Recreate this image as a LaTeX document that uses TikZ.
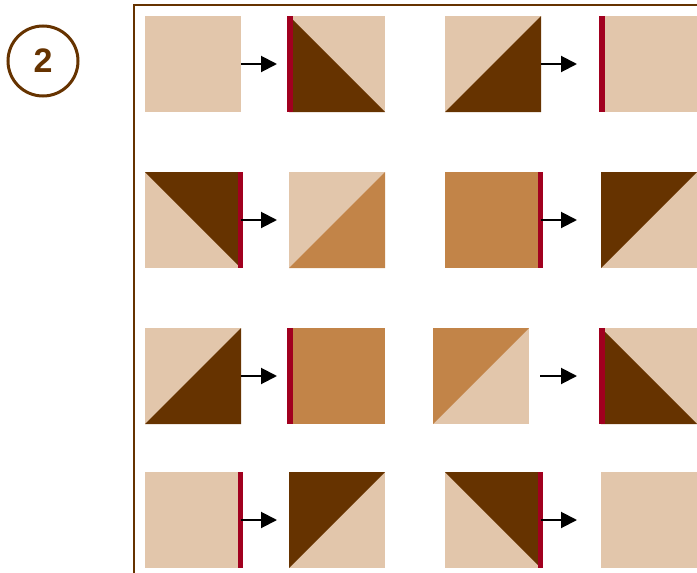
\documentclass[tikz,border=0pt]{standalone}
\usepackage{fontspec}
\setmainfont{Liberation Sans}
\usetikzlibrary{
  arrows.meta % For arrow tips
}

\definecolor{quiltlight}{HTML}{E2C6AB}
\definecolor{quiltmid}{HTML}{C28448}
\definecolor{quiltdark}{HTML}{663300}
\definecolor{seamred}{HTML}{A1001F}

% Half-square triangles on a patch node
\def\lowerleft#1#2{\fill[#2] (#1.north west) -- (#1.south west) -- (#1.south east) -- cycle;}
\def\upperright#1#2{\fill[#2] (#1.north west) -- (#1.north east) -- (#1.south east) -- cycle;}
\def\lowerright#1#2{\fill[#2] (#1.south west) -- (#1.south east) -- (#1.north east) -- cycle;}
\def\upperleft#1#2{\fill[#2] (#1.south west) -- (#1.north west) -- (#1.north east) -- cycle;}
% Seam marks
\def\seamleft#1{\fill[seamred] ([xshift=-2pt]#1.north west) rectangle ([xshift=4pt]#1.south west);}
\def\seamright#1{\fill[seamred] ([xshift=-3pt]#1.north east) rectangle ([xshift=2pt]#1.south east);}

\begin{document}
\begin{tikzpicture}[
      x=1pt, y=-1pt, % Pixel-like units, y downwards
      >={Triangle[length=16pt,width=16pt]}, % Default arrow tip
      patch/.style={minimum size=96pt, inner sep=0pt, outer sep=0pt, fill=#1}, % One quilt block
      patch/.default=quiltlight,
      flow/.style={->, line width=2pt, black}, % Style for the turn arrows
    ]
    \useasboundingbox (0,0) rectangle (697,573);

    % Rahmen
    \draw[quiltdark, line width=2pt] (134,573) -- (134,5) -- (697,5);

    % Schritt 2
    \node[circle, draw=quiltdark, line width=3pt, minimum size=70pt, inner sep=0pt,
          text=quiltdark, font=\bfseries\fontsize{34}{34}\selectfont] (stepnum) at (43,61) {2};

    % Reihe 1
    \node[patch] (a1) at (193,64) {};
    \node[patch] (b1) at (337,64) {};
    \lowerleft{b1}{quiltdark} \seamleft{b1}
    \node[patch] (c1) at (493,64) {};
    \lowerright{c1}{quiltdark}
    \node[patch] (d1) at (649,64) {};
    \seamleft{d1}

    % Reihe 2
    \node[patch] (a2) at (193,220) {};
    \upperright{a2}{quiltdark} \seamright{a2}
    \node[patch] (b2) at (337,220) {};
    \lowerright{b2}{quiltmid}
    \node[patch=quiltmid] (c2) at (493,220) {};
    \seamright{c2}
    \node[patch] (d2) at (649,220) {};
    \upperleft{d2}{quiltdark}

    % Reihe 3
    \node[patch] (a3) at (193,376) {};
    \lowerright{a3}{quiltdark}
    \node[patch=quiltmid] (b3) at (337,376) {};
    \seamleft{b3}
    \node[patch] (c3) at (481,376) {};
    \upperleft{c3}{quiltmid}
    \node[patch] (d3) at (649,376) {};
    \lowerleft{d3}{quiltdark} \seamleft{d3}

    % Reihe 4
    \node[patch] (a4) at (193,520) {};
    \seamright{a4}
    \node[patch] (b4) at (337,520) {};
    \upperleft{b4}{quiltdark}
    \node[patch] (c4) at (493,520) {};
    \upperright{c4}{quiltdark} \seamright{c4}
    \node[patch] (d4) at (649,520) {};

    % Pfeile
    \foreach \r in {1,2,4} {
      \draw[flow, shorten >=12pt] (a\r) -- (b\r);
      \draw[flow, shorten >=24pt] (c\r) -- (d\r);
    }
    \draw[flow, shorten >=12pt] (a3) -- (b3);
    \draw[flow, shorten <=11pt, shorten >=24pt] (c3) -- (d3);

  \end{tikzpicture}
\end{document}
